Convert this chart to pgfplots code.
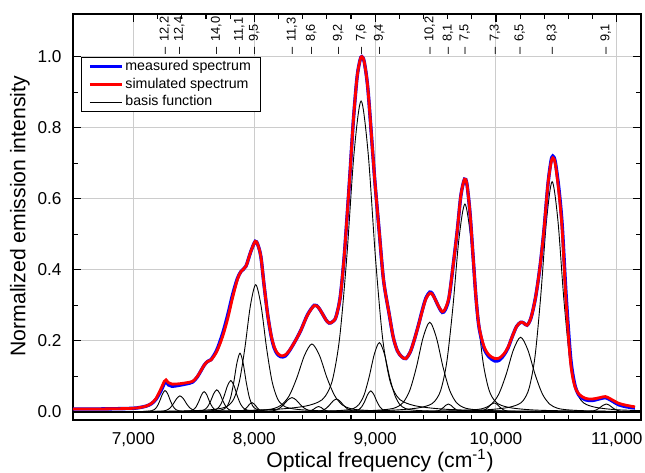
\documentclass[border=0pt]{standalone}
\usepackage{fontspec}
\setmainfont{Liberation Sans}
\usepackage{pgfplots}
\pgfplotsset{compat=1.18}

\begin{document}
\begin{tikzpicture}
\path[use as bounding box] (-36.5pt,-26.5pt) rectangle (286pt,210pt);
\begin{axis}[
  at={(0,0)}, anchor=south west,
  width=284pt, height=203pt, scale only axis,
  xmin=6500, xmax=11200, ymin=-0.023, ymax=1.12,
  xtick={7000,8000,9000,10000,11000}, minor x tick num=4,
  scaled x ticks=false,
  ytick={0,0.2,0.4,0.6,0.8,1.0}, minor y tick num=1,
  tick align=inside, major tick length=4.2pt, minor tick length=2.5pt,
  /pgf/number format/assume math mode=true,
  xticklabel style={/pgf/number format/1000 sep={,}, yshift=-2.7pt},
  yticklabel style={/pgf/number format/.cd, fixed, fixed zerofill, precision=1, /tikz/.cd, xshift=-2.2pt},
  tick label style={font=\fontsize{8.6}{10}\selectfont},
  tick style={black, line width=0.6pt},
  axis line style={line width=0.65pt},
  grid=major, grid style={black!20, line width=0.5pt},
  xlabel={Optical frequency (cm\textsuperscript{-1})},
  ylabel={Normalized emission intensity},
  label style={font=\fontsize{10.6}{12}\selectfont},
  xlabel style={at={(axis description cs:0.5405,-0.1)}, anchor=center},
  ylabel style={at={(axis description cs:-0.0933,0.502)}, anchor=center},
  legend style={at={(0.0136,0.895)}, anchor=north west, draw=black, line width=0.5pt,
    font=\fontsize{7.1}{8}\selectfont, inner xsep=3.5pt, inner ysep=0.3pt,
    nodes={inner sep=1.1pt, text height=5.2pt, text depth=1.5pt}},
  legend cell align=left,
  legend image code/.code={\draw[#1] (0pt,0pt) -- (15.8pt,0pt);},
  basis/.style={black, line width=0.45pt, smooth, forget plot},
]
% basis functions
\addplot[basis] coordinates {(6500,0) (6812,0.0002) (6992,0.0005) (7082,0.0011) (7127,0.0019) (7150,0.0031) (7172,0.0062) (7195,0.0144) (7217,0.0300) (7240,0.0497) (7262,0.0600) (7285,0.0497) (7307,0.0300) (7330,0.0144) (7352,0.0062) (7375,0.0031) (7397,0.0019) (7442,0.0011) (7532,0.0005) (7712,0.0002) (11200,0)};
\addplot[basis] coordinates {(6500,0) (6835,0.0001) (7055,0.0004) (7165,0.0008) (7220,0.0014) (7248,0.0023) (7275,0.0047) (7303,0.0108) (7330,0.0225) (7358,0.0373) (7385,0.0450) (7413,0.0373) (7440,0.0225) (7468,0.0108) (7495,0.0047) (7523,0.0023) (7550,0.0014) (7605,0.0008) (7715,0.0004) (7935,0.0001) (11200,0)};
\addplot[basis] coordinates {(6500,0) (7135,0.0002) (7315,0.0005) (7405,0.0010) (7450,0.0018) (7473,0.0029) (7495,0.0059) (7518,0.0137) (7540,0.0285) (7563,0.0473) (7585,0.0570) (7608,0.0473) (7630,0.0285) (7653,0.0137) (7675,0.0059) (7698,0.0029) (7720,0.0018) (7765,0.0010) (7855,0.0005) (8035,0.0002) (11200,0)};
\addplot[basis] coordinates {(6500,0) (7190,0.0002) (7390,0.0005) (7490,0.0011) (7540,0.0019) (7565,0.0032) (7590,0.0064) (7615,0.0149) (7640,0.0310) (7665,0.0514) (7690,0.0620) (7715,0.0514) (7740,0.0310) (7765,0.0149) (7790,0.0064) (7815,0.0032) (7840,0.0019) (7890,0.0011) (7990,0.0005) (8190,0.0002) (11200,0)};
\addplot[basis] coordinates {(6500,0) (7255,0.0003) (7475,0.0007) (7585,0.0015) (7640,0.0028) (7668,0.0045) (7695,0.0092) (7723,0.0211) (7750,0.0440) (7778,0.0730) (7805,0.0880) (7833,0.0730) (7860,0.0440) (7888,0.0211) (7915,0.0092) (7943,0.0045) (7970,0.0028) (8025,0.0015) (8135,0.0007) (8355,0.0003) (11200,0)};
\addplot[basis] coordinates {(6500,0) (7362,0.0005) (7570,0.0013) (7674,0.0029) (7726,0.0052) (7752,0.0084) (7778,0.0172) (7804,0.0396) (7830,0.0825) (7856,0.1368) (7882,0.1650) (7908,0.1368) (7934,0.0825) (7960,0.0396) (7986,0.0172) (8012,0.0084) (8038,0.0052) (8090,0.0029) (8194,0.0013) (8402,0.0005) (11200,0)};
\addplot[basis] coordinates {(6500,0) (7112,0.0011) (7472,0.0029) (7652,0.0063) (7742,0.0112) (7787,0.0183) (7832,0.0372) (7877,0.0859) (7922,0.1790) (7967,0.2968) (8012,0.3580) (8057,0.2968) (8102,0.1790) (8147,0.0859) (8192,0.0372) (8237,0.0183) (8282,0.0112) (8372,0.0063) (8552,0.0029) (8912,0.0011) (11200,0)};
\addplot[basis] coordinates {(6500,0) (7581,0.0001) (7741,0.0002) (7821,0.0005) (7861,0.0008) (7881,0.0013) (7901,0.0027) (7921,0.0062) (7941,0.0130) (7961,0.0216) (7981,0.0260) (8001,0.0216) (8021,0.0130) (8041,0.0062) (8061,0.0027) (8081,0.0013) (8101,0.0008) (8141,0.0005) (8221,0.0002) (8381,0.0001) (11200,0)};
\addplot[basis] coordinates {(6500,0) (7612,0.0001) (7892,0.0003) (8032,0.0007) (8102,0.0013) (8137,0.0020) (8172,0.0042) (8207,0.0096) (8242,0.0200) (8277,0.0332) (8312,0.0400) (8347,0.0332) (8382,0.0200) (8417,0.0096) (8452,0.0042) (8487,0.0020) (8522,0.0013) (8592,0.0007) (8732,0.0003) (9012,0.0001) (11200,0)};
\addplot[basis] coordinates {(6500,0) (7227,0.0006) (7727,0.0015) (7977,0.0034) (8102,0.0060) (8165,0.0097) (8227,0.0199) (8290,0.0458) (8352,0.0955) (8415,0.1583) (8477,0.1910) (8540,0.1583) (8602,0.0955) (8665,0.0458) (8727,0.0199) (8790,0.0097) (8852,0.0060) (8977,0.0034) (9227,0.0015) (9727,0.0006) (11200,0)};
\addplot[basis] coordinates {(6500,0) (8132,0.0000) (8292,0.0001) (8372,0.0003) (8412,0.0005) (8432,0.0008) (8452,0.0016) (8472,0.0036) (8492,0.0075) (8512,0.0124) (8532,0.0150) (8552,0.0124) (8572,0.0075) (8592,0.0036) (8612,0.0016) (8632,0.0008) (8652,0.0005) (8692,0.0003) (8772,0.0001) (8932,0.0000) (11200,0)};
\addplot[basis] coordinates {(6500,0) (8080,0.0001) (8320,0.0003) (8440,0.0006) (8500,0.0011) (8530,0.0018) (8560,0.0037) (8590,0.0086) (8620,0.0180) (8650,0.0298) (8680,0.0360) (8710,0.0298) (8740,0.0180) (8770,0.0086) (8800,0.0037) (8830,0.0018) (8860,0.0011) (8920,0.0006) (9040,0.0003) (9280,0.0001) (11200,0)};
\addplot[basis] coordinates {(6500,0) (7704,0.0026) (8176,0.0071) (8412,0.0154) (8530,0.0275) (8589,0.0446) (8648,0.0910) (8707,0.2100) (8766,0.4375) (8825,0.7254) (8884,0.8750) (8943,0.7254) (9002,0.4375) (9061,0.2100) (9120,0.0910) (9179,0.0446) (9238,0.0275) (9356,0.0154) (9592,0.0071) (10064,0.0026) (11200,0)};
\addplot[basis] coordinates {(6500,0) (8464,0.0002) (8664,0.0005) (8764,0.0010) (8814,0.0019) (8839,0.0030) (8864,0.0061) (8889,0.0142) (8914,0.0295) (8939,0.0489) (8964,0.0590) (8989,0.0489) (9014,0.0295) (9039,0.0142) (9064,0.0061) (9089,0.0030) (9114,0.0019) (9164,0.0010) (9264,0.0005) (9464,0.0002) (11200,0)};
\addplot[basis] coordinates {(6500,0) (8185,0.0006) (8525,0.0016) (8695,0.0034) (8780,0.0061) (8823,0.0099) (8865,0.0203) (8908,0.0468) (8950,0.0975) (8993,0.1617) (9035,0.1950) (9078,0.1617) (9120,0.0975) (9163,0.0468) (9205,0.0203) (9248,0.0099) (9290,0.0061) (9375,0.0034) (9545,0.0016) (9885,0.0006) (11200,0)};
\addplot[basis] coordinates {(6500,0) (8352,0.0008) (8792,0.0020) (9012,0.0044) (9122,0.0079) (9177,0.0129) (9232,0.0262) (9287,0.0605) (9342,0.1260) (9397,0.2089) (9452,0.2520) (9507,0.2089) (9562,0.1260) (9617,0.0605) (9672,0.0262) (9727,0.0129) (9782,0.0079) (9892,0.0044) (10112,0.0020) (10552,0.0008) (11200,0)};
\addplot[basis] coordinates {(6500,0) (9156,0.0001) (9336,0.0002) (9426,0.0004) (9471,0.0007) (9494,0.0011) (9516,0.0023) (9539,0.0053) (9561,0.0110) (9584,0.0182) (9606,0.0220) (9629,0.0182) (9651,0.0110) (9674,0.0053) (9696,0.0023) (9719,0.0011) (9741,0.0007) (9786,0.0004) (9876,0.0002) (10056,0.0001) (11200,0)};
\addplot[basis] coordinates {(6500,0) (8743,0.0018) (9143,0.0047) (9343,0.0103) (9443,0.0184) (9493,0.0298) (9543,0.0608) (9593,0.1404) (9643,0.2925) (9693,0.4850) (9743,0.5850) (9793,0.4850) (9843,0.2925) (9893,0.1404) (9943,0.0608) (9993,0.0298) (10043,0.0184) (10143,0.0103) (10343,0.0047) (10743,0.0018) (11200,0)};
\addplot[basis] coordinates {(6500,0) (9485,0.0001) (9685,0.0002) (9785,0.0004) (9835,0.0008) (9860,0.0013) (9885,0.0026) (9910,0.0060) (9935,0.0125) (9960,0.0207) (9985,0.0250) (10010,0.0207) (10035,0.0125) (10060,0.0060) (10085,0.0026) (10110,0.0013) (10135,0.0008) (10185,0.0004) (10285,0.0002) (10485,0.0001) (11200,0)};
\addplot[basis] coordinates {(6500,0) (9004,0.0006) (9484,0.0017) (9724,0.0037) (9844,0.0066) (9904,0.0107) (9964,0.0218) (10024,0.0504) (10084,0.1050) (10144,0.1741) (10204,0.2100) (10264,0.1741) (10324,0.1050) (10384,0.0504) (10444,0.0218) (10504,0.0107) (10564,0.0066) (10684,0.0037) (10924,0.0017) (11404,0.0006)};
\addplot[basis] coordinates {(6500,0) (9515,0.0019) (9895,0.0052) (10085,0.0114) (10180,0.0203) (10228,0.0330) (10275,0.0674) (10323,0.1555) (10370,0.3240) (10418,0.5372) (10465,0.6480) (10513,0.5372) (10560,0.3240) (10608,0.1555) (10655,0.0674) (10703,0.0330) (10750,0.0203) (10845,0.0114) (11035,0.0052) (11415,0.0019)};
\addplot[basis] coordinates {(6500,0) (10362,0.0001) (10582,0.0002) (10692,0.0004) (10747,0.0007) (10775,0.0011) (10802,0.0023) (10830,0.0053) (10857,0.0110) (10885,0.0182) (10912,0.0220) (10940,0.0182) (10967,0.0110) (10995,0.0053) (11022,0.0023) (11050,0.0011) (11077,0.0007) (11132,0.0004) (11242,0.0002) (11462,0.0001)};
% overlapping tails along zero
\addplot[black, line width=1.2pt, forget plot] coordinates {(6500,0) (11200,0)};

% measured spectrum
\addplot[blue, line width=1.7pt, smooth] coordinates {
 (6500,0.008) (6700,0.008) (6900,0.009) (7000,0.010) (7050,0.012) (7105,0.016) (7150,0.023)
 (7188,0.036) (7229,0.060) (7256,0.080) (7270,0.085) (7290,0.076) (7320,0.072) (7380,0.075)
 (7440,0.079) (7490,0.084) (7530,0.099) (7587,0.132) (7615,0.142) (7642,0.147) (7690,0.174)
 (7738,0.220) (7780,0.272) (7821,0.330) (7860,0.375) (7890,0.395) (7931,0.410) (7970,0.450)
 (8008,0.480) (8030,0.470) (8055,0.436) (8080,0.360) (8110,0.276) (8140,0.213) (8165,0.180)
 (8190,0.163) (8221,0.155) (8255,0.157) (8289,0.171) (8340,0.200) (8386,0.230) (8440,0.273)
 (8496,0.300) (8530,0.294) (8564,0.276) (8595,0.258) (8620,0.250) (8645,0.253) (8675,0.266)
 (8710,0.320) (8740,0.420) (8760,0.511) (8790,0.660) (8820,0.820) (8850,0.940) (8875,0.990)
 (8890,1.000) (8910,0.985) (8940,0.910) (8980,0.730) (9000,0.640) (9033,0.511) (9070,0.370)
 (9116,0.276) (9150,0.210) (9184,0.172) (9220,0.155) (9254,0.150) (9290,0.168) (9322,0.200)
 (9360,0.246) (9391,0.287) (9420,0.320) (9452,0.337) (9475,0.332) (9501,0.314) (9530,0.293)
 (9556,0.280) (9580,0.287) (9611,0.320) (9645,0.410) (9680,0.511) (9710,0.610) (9740,0.655)
 (9760,0.640) (9785,0.560) (9810,0.440) (9835,0.320) (9860,0.238) (9900,0.180) (9942,0.155)
 (9992,0.143) (10030,0.146) (10066,0.160) (10100,0.180) (10135,0.212) (10170,0.240)
 (10204,0.252) (10230,0.250) (10258,0.244) (10290,0.265) (10328,0.323) (10365,0.410)
 (10397,0.511) (10430,0.640) (10455,0.705) (10470,0.720) (10490,0.705) (10520,0.630)
 (10548,0.525) (10580,0.330) (10617,0.155) (10650,0.080) (10686,0.047) (10740,0.034)
 (10796,0.032) (10860,0.037) (10906,0.040) (10950,0.033) (11016,0.020) (11085,0.014) (11150,0.011)};
% simulated spectrum
\addplot[red, line width=1.4pt, smooth] coordinates {
 (6500,0.008) (6700,0.008) (6900,0.009) (7000,0.010) (7050,0.012) (7105,0.016) (7150,0.024)
 (7188,0.038) (7229,0.066) (7256,0.086) (7270,0.090) (7290,0.082) (7320,0.078) (7380,0.079)
 (7440,0.082) (7490,0.086) (7530,0.100) (7587,0.132) (7615,0.142) (7642,0.146) (7690,0.170)
 (7738,0.212) (7780,0.262) (7821,0.322) (7860,0.372) (7890,0.395) (7931,0.410) (7970,0.450)
 (8008,0.480) (8030,0.470) (8055,0.436) (8080,0.360) (8110,0.276) (8140,0.215) (8165,0.183)
 (8190,0.166) (8221,0.158) (8255,0.160) (8289,0.172) (8340,0.200) (8386,0.230) (8440,0.272)
 (8496,0.299) (8530,0.294) (8564,0.276) (8595,0.258) (8620,0.250) (8645,0.253) (8675,0.266)
 (8710,0.320) (8740,0.420) (8760,0.511) (8790,0.660) (8820,0.820) (8850,0.940) (8875,0.990)
 (8890,1.000) (8910,0.985) (8940,0.910) (8980,0.730) (9000,0.640) (9033,0.511) (9070,0.370)
 (9116,0.276) (9150,0.210) (9184,0.172) (9220,0.155) (9254,0.150) (9290,0.168) (9322,0.200)
 (9360,0.245) (9391,0.285) (9420,0.318) (9452,0.334) (9475,0.330) (9501,0.314) (9530,0.294)
 (9556,0.282) (9580,0.290) (9611,0.323) (9645,0.410) (9680,0.511) (9710,0.610) (9740,0.655)
 (9760,0.640) (9785,0.560) (9810,0.440) (9835,0.320) (9860,0.240) (9900,0.185) (9942,0.160)
 (9992,0.150) (10030,0.152) (10066,0.163) (10100,0.182) (10135,0.212) (10170,0.240)
 (10204,0.252) (10230,0.250) (10258,0.244) (10290,0.265) (10328,0.323) (10365,0.410)
 (10397,0.511) (10430,0.640) (10455,0.700) (10470,0.715) (10490,0.700) (10520,0.620)
 (10548,0.511) (10580,0.310) (10617,0.140) (10650,0.075) (10686,0.050) (10740,0.038)
 (10796,0.036) (10860,0.040) (10906,0.043) (10950,0.036) (11016,0.024) (11085,0.018) (11150,0.014)};
\addlegendimage{black, line width=0.5pt}
\legend{measured spectrum, simulated spectrum, basis function}

% band labels
\begin{scope}[every node/.style={rotate=90, anchor=west, inner sep=0pt, font=\fontsize{6.4}{7}\selectfont}]
\node at (axis cs:7262,1.004) {\textendash\hspace{3pt}12,2};
\node at (axis cs:7380,1.004) {\textendash\hspace{3pt}12,4};
\node at (axis cs:7686,1.004) {\textendash\hspace{3pt}14,0};
\node at (axis cs:7876,1.004) {\textendash\hspace{3pt}11,1};
\node at (axis cs:8000,1.004) {\textendash\hspace{3pt}9,5};
\node at (axis cs:8312,1.004) {\textendash\hspace{3pt}11,3};
\node at (axis cs:8471,1.004) {\textendash\hspace{3pt}8,6};
\node at (axis cs:8694,1.004) {\textendash\hspace{3pt}9,2};
\node at (axis cs:8884,1.004) {\textendash\hspace{3pt}7,6};
\node at (axis cs:9033,1.004) {\textendash\hspace{3pt}9,4};
\node at (axis cs:9452,1.004) {\textendash\hspace{3pt}10,2};
\node at (axis cs:9603,1.004) {\textendash\hspace{3pt}8,1};
\node at (axis cs:9741,1.004) {\textendash\hspace{3pt}7,5};
\node at (axis cs:9992,1.004) {\textendash\hspace{3pt}7,3};
\node at (axis cs:10196,1.004) {\textendash\hspace{3pt}6,5};
\node at (axis cs:10463,1.004) {\textendash\hspace{3pt}8,3};
\node at (axis cs:10909,1.004) {\textendash\hspace{3pt}9,1};
\end{scope}
\end{axis}
\end{tikzpicture}
\end{document}
